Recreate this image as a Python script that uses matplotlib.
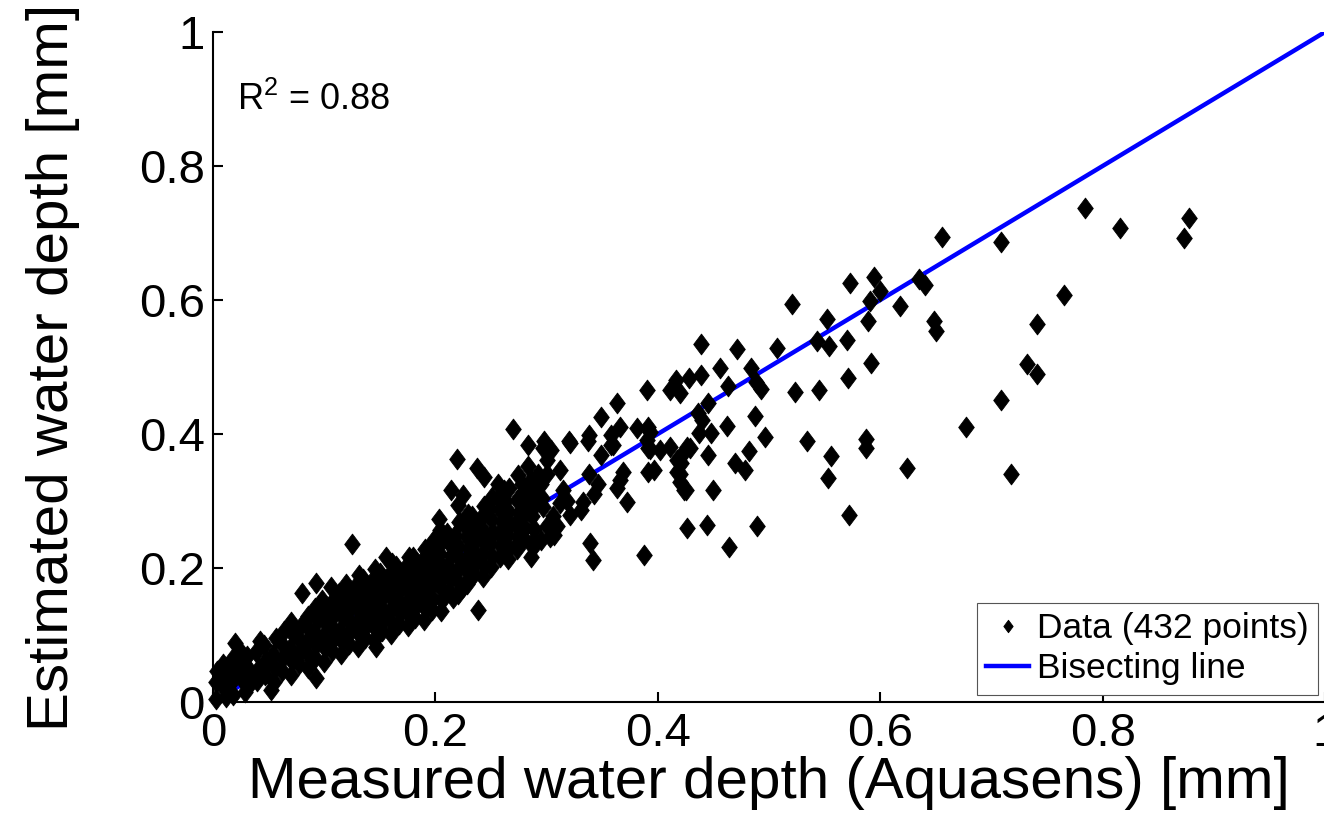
import matplotlib
matplotlib.use("Agg")
import matplotlib.pyplot as plt
from matplotlib.path import Path
import numpy as np

plt.rcParams['font.family'] = ['Liberation Sans', 'DejaVu Sans']
plt.rcParams['mathtext.fontset'] = 'custom'
plt.rcParams['mathtext.rm'] = 'Liberation Sans'
plt.rcParams['mathtext.it'] = 'Liberation Sans:italic'

# ---------------- data (measured, estimated) ----------------
high_range_pts = [
    (0.656, 0.694), (0.709, 0.687), (0.784, 0.737), (0.816, 0.708), (0.878, 0.723),
    (0.873, 0.693), (0.635, 0.632), (0.640, 0.622), (0.618, 0.591), (0.765, 0.607),
    (0.648, 0.568), (0.650, 0.553), (0.741, 0.564), (0.732, 0.505), (0.741, 0.490),
    (0.709, 0.451), (0.677, 0.411), (0.624, 0.349), (0.718, 0.341),
]

mid_range_pts = [
    (0.573, 0.626), (0.594, 0.635), (0.600, 0.614), (0.591, 0.599), (0.521, 0.594),
    (0.552, 0.571), (0.543, 0.539), (0.554, 0.531), (0.570, 0.541), (0.589, 0.568),
    (0.439, 0.535), (0.471, 0.527), (0.507, 0.529), (0.456, 0.499), (0.484, 0.498),
    (0.592, 0.506), (0.416, 0.481), (0.428, 0.483), (0.439, 0.488), (0.411, 0.466),
    (0.420, 0.461), (0.463, 0.472), (0.488, 0.478), (0.493, 0.467), (0.523, 0.462),
    (0.545, 0.466), (0.571, 0.483), (0.445, 0.446), (0.436, 0.432), (0.440, 0.421),
    (0.462, 0.412), (0.487, 0.427), (0.393, 0.403), (0.402, 0.376), (0.411, 0.381),
    (0.437, 0.401), (0.448, 0.402), (0.496, 0.396), (0.534, 0.390), (0.587, 0.392),
    (0.587, 0.379), (0.429, 0.379), (0.445, 0.369), (0.482, 0.374), (0.420, 0.366),
    (0.421, 0.356), (0.397, 0.346), (0.417, 0.344), (0.469, 0.356), (0.478, 0.347),
    (0.556, 0.367), (0.553, 0.334), (0.420, 0.329), (0.424, 0.317), (0.450, 0.316),
    (0.572, 0.279), (0.426, 0.260), (0.444, 0.264), (0.489, 0.262), (0.464, 0.232),
    (0.390, 0.466), (0.363, 0.447), (0.349, 0.425), (0.338, 0.399), (0.320, 0.389),
    (0.298, 0.389), (0.366, 0.411), (0.381, 0.409), (0.391, 0.411), (0.358, 0.399),
    (0.358, 0.384), (0.390, 0.391), (0.393, 0.378), (0.321, 0.386), (0.337, 0.389),
    (0.360, 0.384), (0.349, 0.369), (0.391, 0.379), (0.426, 0.381), (0.391, 0.344),
    (0.369, 0.344), (0.366, 0.331), (0.363, 0.319), (0.372, 0.299), (0.417, 0.361),
    (0.420, 0.341), (0.425, 0.316), (0.388, 0.219), (0.339, 0.237), (0.342, 0.212),
    (0.338, 0.341), (0.346, 0.326), (0.343, 0.311), (0.333, 0.299), (0.331, 0.287),
    (0.315, 0.316), (0.312, 0.297), (0.306, 0.277), (0.321, 0.279), (0.297, 0.291),
    (0.300, 0.262), (0.307, 0.249), (0.295, 0.242), (0.297, 0.379), (0.312, 0.346),
    (0.300, 0.341),
]

low_range_pts = [
    (0.270, 0.407), (0.283, 0.384), (0.219, 0.362), (0.237, 0.349), (0.244, 0.336),
    (0.214, 0.316), (0.225, 0.309), (0.203, 0.273), (0.274, 0.339), (0.280, 0.284),
    (0.262, 0.316), (0.300, 0.361), (0.304, 0.376), (0.216, 0.155), (0.225, 0.172),
    (0.238, 0.138), (0.286, 0.217), (0.288, 0.232), (0.303, 0.247), (0.156, 0.217),
    (0.180, 0.217), (0.274, 0.237), (0.220, 0.294), (0.020, 0.088), (0.093, 0.178),
    (0.106, 0.172), (0.125, 0.236), (0.080, 0.163), (0.093, 0.036), (0.147, 0.082),
    (0.052, 0.018), (0.029, 0.015), (0.012, 0.007), (0.283, 0.352), (0.292, 0.340),
    (0.295, 0.325), (0.287, 0.318), (0.278, 0.325), (0.256, 0.325), (0.296, 0.305),
    (0.309, 0.263), (0.318, 0.300),
]

dense_cluster_pts = [
    (0.003, 0.005), (0.003, 0.030), (0.004, 0.046),
    (0.010, 0.021), (0.011, 0.040), (0.009, 0.056),
    (0.018, 0.011), (0.017, 0.031), (0.019, 0.050), (0.018, 0.066),
    (0.025, 0.036), (0.026, 0.054), (0.024, 0.076),
    (0.032, 0.026), (0.033, 0.046), (0.031, 0.068),
    (0.040, 0.031), (0.041, 0.051), (0.039, 0.075), (0.042, 0.091),
    (0.047, 0.041), (0.048, 0.062), (0.046, 0.085),
    (0.055, 0.030), (0.056, 0.051), (0.054, 0.072), (0.057, 0.096),
    (0.062, 0.046), (0.063, 0.066), (0.061, 0.088), (0.064, 0.106),
    (0.070, 0.041), (0.071, 0.061), (0.069, 0.080), (0.072, 0.101), (0.070, 0.119),
    (0.077, 0.056), (0.078, 0.075), (0.076, 0.095), (0.079, 0.113),
    (0.085, 0.051), (0.086, 0.069), (0.084, 0.090), (0.087, 0.108), (0.085, 0.129),
    (0.092, 0.066), (0.093, 0.085), (0.091, 0.104), (0.094, 0.122), (0.092, 0.141),
    (0.100, 0.060), (0.101, 0.081), (0.099, 0.098), (0.102, 0.118), (0.100, 0.136), (0.098, 0.152),
    (0.107, 0.076), (0.108, 0.093), (0.106, 0.113), (0.109, 0.130), (0.107, 0.149),
    (0.115, 0.071), (0.116, 0.091), (0.114, 0.108), (0.117, 0.127), (0.115, 0.145), (0.113, 0.163),
    (0.122, 0.086), (0.123, 0.104), (0.121, 0.123), (0.124, 0.140), (0.122, 0.158), (0.120, 0.176),
    (0.130, 0.082), (0.131, 0.101), (0.129, 0.118), (0.132, 0.136), (0.130, 0.152), (0.128, 0.171), (0.131, 0.189),
    (0.137, 0.096), (0.138, 0.113), (0.136, 0.131), (0.139, 0.148), (0.137, 0.167), (0.135, 0.184),
    (0.145, 0.093), (0.146, 0.110), (0.144, 0.128), (0.147, 0.145), (0.145, 0.164), (0.143, 0.181), (0.146, 0.199),
    (0.152, 0.106), (0.153, 0.123), (0.151, 0.141), (0.154, 0.158), (0.152, 0.177), (0.150, 0.193),
    (0.160, 0.101), (0.161, 0.118), (0.159, 0.137), (0.162, 0.154), (0.160, 0.173), (0.158, 0.190), (0.161, 0.207),
    (0.167, 0.116), (0.168, 0.133), (0.166, 0.151), (0.169, 0.168), (0.167, 0.187), (0.165, 0.203),
    (0.175, 0.113), (0.176, 0.130), (0.174, 0.148), (0.177, 0.165), (0.175, 0.184), (0.173, 0.200), (0.176, 0.216),
    (0.182, 0.126), (0.183, 0.143), (0.181, 0.161), (0.184, 0.178), (0.182, 0.197), (0.180, 0.212),
    (0.190, 0.123), (0.191, 0.140), (0.189, 0.158), (0.192, 0.175), (0.190, 0.194), (0.188, 0.210), (0.191, 0.229),
    (0.197, 0.138), (0.198, 0.154), (0.196, 0.173), (0.199, 0.190), (0.197, 0.208), (0.195, 0.224), (0.198, 0.241),
    (0.205, 0.136), (0.206, 0.152), (0.204, 0.171), (0.207, 0.188), (0.205, 0.206), (0.203, 0.222), (0.206, 0.241), (0.204, 0.257),
    (0.212, 0.166), (0.213, 0.183), (0.211, 0.201), (0.214, 0.218), (0.212, 0.237), (0.210, 0.252),
    (0.220, 0.161), (0.221, 0.178), (0.219, 0.197), (0.222, 0.214), (0.220, 0.233), (0.218, 0.250), (0.221, 0.269),
    (0.228, 0.176), (0.229, 0.193), (0.227, 0.211), (0.230, 0.228), (0.228, 0.247), (0.226, 0.264), (0.229, 0.281),
    (0.235, 0.191), (0.236, 0.207), (0.234, 0.226), (0.237, 0.243), (0.235, 0.261), (0.233, 0.278),
    (0.243, 0.186), (0.244, 0.203), (0.242, 0.221), (0.245, 0.238), (0.243, 0.257), (0.241, 0.274), (0.244, 0.293),
    (0.250, 0.201), (0.251, 0.218), (0.249, 0.237), (0.252, 0.254), (0.250, 0.273), (0.248, 0.290), (0.251, 0.306),
    (0.258, 0.216), (0.259, 0.233), (0.257, 0.251), (0.260, 0.268), (0.258, 0.287), (0.256, 0.303),
    (0.265, 0.213), (0.266, 0.230), (0.264, 0.249), (0.267, 0.266), (0.265, 0.285), (0.263, 0.300), (0.266, 0.319),
    (0.273, 0.229), (0.274, 0.246), (0.272, 0.265), (0.275, 0.282), (0.273, 0.301),
    (0.280, 0.244), (0.281, 0.260), (0.279, 0.279), (0.282, 0.296), (0.280, 0.315),
    (0.288, 0.241), (0.289, 0.258), (0.287, 0.277), (0.290, 0.294), (0.288, 0.313), (0.286, 0.331),
]

r_squared_label = "$\\mathregular{R^2}$ = 0.88"
data_label = "Data (432 points)"
line_label = "Bisecting line"
x_label = "Measured water depth (Aquasens) [mm]"
y_label = "Estimated water depth [mm]"
tick_values = [0, 0.2, 0.4, 0.6, 0.8, 1]
tick_labels = ["0", "0.2", "0.4", "0.6", "0.8", "1"]
bisect_x = [0, 1]
bisect_y = [0, 1]

pts = np.array(high_range_pts + mid_range_pts + low_range_pts + dense_cluster_pts)
measured = pts[:, 0]
estimated = pts[:, 1]

# MATLAB-like diamond (slightly taller than wide)
diamond = Path([(0, 1), (0.75, 0), (0, -1), (-0.75, 0), (0, 1)],
               [Path.MOVETO, Path.LINETO, Path.LINETO, Path.LINETO, Path.CLOSEPOLY])

fig = plt.figure(figsize=(13.24, 8.15), dpi=100)
ax = fig.add_axes([213 / 1324, (815 - 702) / 815, (1325 - 213) / 1324, (702 - 32) / 815])

ax.plot(bisect_x, bisect_y, color='#0000ff', lw=3.2, zorder=2, label=line_label)
ax.plot(measured, estimated, linestyle='none', marker=diamond, markersize=15,
        color='black', markeredgecolor='black', markeredgewidth=0.6, zorder=3,
        clip_on=False, label=data_label)

ax.set_xlim(0, 1)
ax.set_ylim(0, 1)
ax.set_xticks(tick_values)
ax.set_xticklabels(tick_labels)
ax.set_yticks(tick_values)
ax.set_yticklabels(tick_labels)

for s in ['top', 'right']:
    ax.spines[s].set_visible(False)
for s in ['left', 'bottom']:
    ax.spines[s].set_linewidth(1.5)

ax.tick_params(axis='both', direction='in', length=7, width=1.5, labelsize=34)
ax.tick_params(axis='x', pad=7)
ax.tick_params(axis='y', pad=6)

ax.set_xlabel(x_label, fontsize=42, labelpad=0)
ax.set_ylabel(y_label, fontsize=42, labelpad=42)

ax.text(0.022, 0.884, r_squared_label, fontsize=26, va='baseline', ha='left')

handles, labels = ax.get_legend_handles_labels()
leg = ax.legend(handles[::-1], labels[::-1], loc='lower right', fontsize=25.5,
                frameon=True, fancybox=False, framealpha=1, edgecolor='#555555',
                borderpad=0.27, labelspacing=0.2, handlelength=1.2, handletextpad=0.22,
                borderaxespad=0.2, markerscale=0.6)
leg.get_frame().set_linewidth(0.8)

fig.savefig("out.png", dpi=100)
